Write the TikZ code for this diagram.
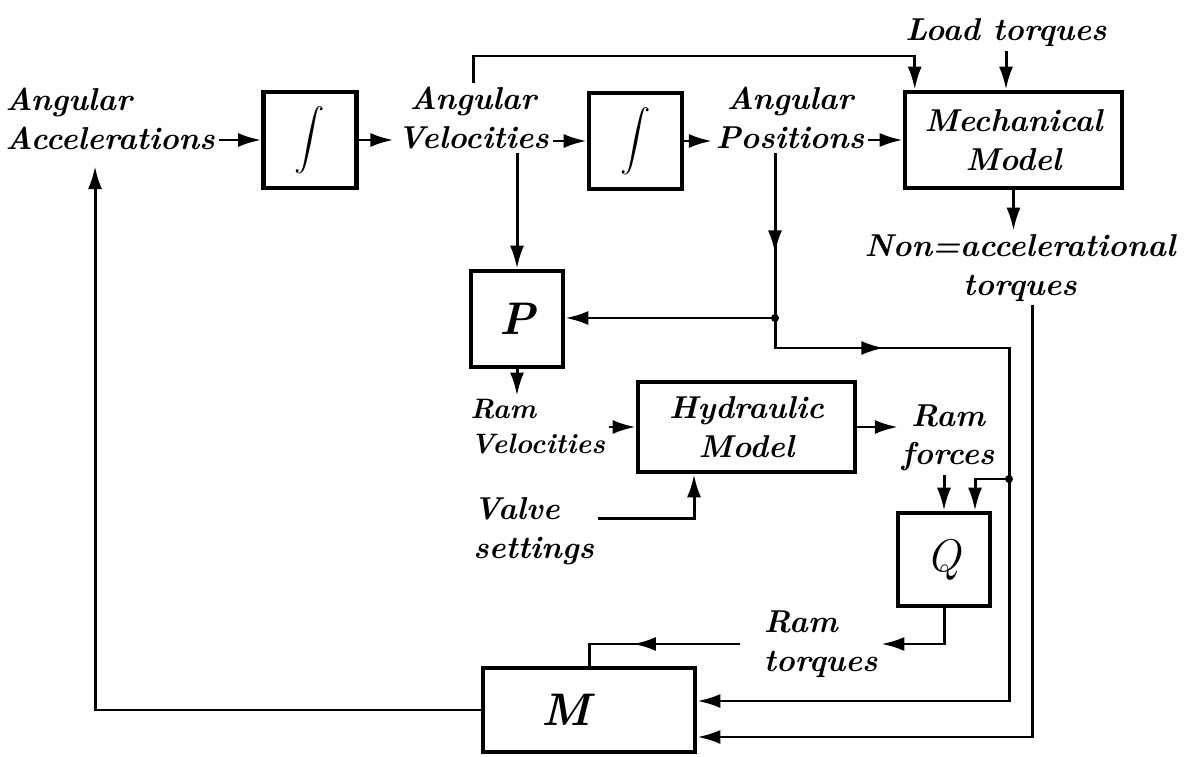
\documentclass[tikz,border=0pt]{standalone}
\usepackage{amsmath}
\usepackage{tikz}
\usetikzlibrary{positioning, calc, arrows.meta, decorations.markings}

\begin{document}
\begin{tikzpicture}[
    block/.style={draw, line width=2.6pt, minimum width=1.86cm,
                  minimum height=1.92cm, align=center, inner sep=2pt,
                  font=\fontsize{18}{22}\selectfont\bfseries\itshape},
    lbl/.style={align=center, inner sep=2pt,
                font=\fontsize{18}{22}\selectfont\bfseries\itshape},
    arw/.style={-{Latex[length=4.6mm, width=2.8mm]}, line width=1.7pt},
    wire/.style={line width=1.7pt},
    midarw/.style={postaction={decorate}, decoration={markings,
        mark=at position #1 with {\arrow{Latex[length=4.6mm, width=2.8mm]}}}},
]
\useasboundingbox (0,0) rectangle (23.82,15.12);

% --- Top row ---
\node[lbl, align=left, anchor=west] (acc) at (0.03, 12.74)
    {Angular\\Accelerations};
\node[block] (int1) at (6.2, 12.32) {\fontsize{18}{20}\selectfont$\displaystyle\int$};
\node[lbl] (vel) at (9.46, 12.76) {Angular\\Velocities};
\node[block] (int2) at (12.71, 12.3) {\fontsize{18}{20}\selectfont$\displaystyle\int$};
\node[lbl] (pos) at (15.8, 12.76) {Angular\\Positions};
\node[block, minimum width=4.34cm] (mech) at (20.27, 12.32)
    {Mechanical\\Model};
\node[lbl] (load) at (20.12, 14.46) {Load torques};
\node[lbl] (nonacc) at (20.4, 9.76) {Non=accelerational\\torques};
\coordinate (topline) at (0, 14.0);

% --- Middle ---
\node[block, minimum width=1.84cm] (P) at (10.34, 8.74)
    {\fontsize{26}{28}\selectfont P};
\coordinate (split1) at (15.5, 8.76);
\node[lbl, align=left, anchor=west, font=\fontsize{16}{20}\selectfont\bfseries\itshape]
    (ramvel) at (9.33, 6.58) {Ram\\Velocities};
\node[block, minimum width=4.34cm, minimum height=1.8cm] (hyd) at (14.93, 6.58)
    {Hydraulic\\Model};
\node[lbl] (ramforce) at (18.96, 6.36) {Ram\\forces};
\node[lbl, align=left, anchor=west] (valve) at (9.39, 4.5) {Valve\\settings};
\coordinate (split2) at (20.18, 5.54);

% --- Bottom ---
\node[block, minimum width=1.84cm, minimum height=1.86cm] (Q) at (18.88, 3.93)
    {\fontsize{26}{28}\selectfont\mdseries Q};
\node[lbl, align=left, anchor=west] (ramtorq) at (15.2, 2.24) {Ram\\torques};
\node[block, minimum width=4.24cm, minimum height=1.68cm] (M) at (11.78, 0.92)
    {\fontsize{26}{28}\selectfont M\hspace*{0.9cm}};

% --- Main flow arrows ---
\draw[arw] (acc.east |- int1.west) -- (int1.west);
\draw[arw] (int1.east) -- (vel.west |- int1.east);
\draw[arw] (vel.east |- int2.west) -- (int2.west);
\draw[arw] (int2.east) -- (pos.west |- int2.east);
\draw[arw] (pos.east |- mech.west) -- (mech.west);

% --- Mechanical model inputs and output ---
\draw[arw] (vel.north) -- (vel.north |- topline) -| ([xshift=0.24cm]mech.north west);
\draw[arw] (load.south) -- (load.south |- mech.north);
\draw[arw] (mech.south) -- (mech.south |- nonacc.north);

% --- P and hydraulic model ---
\draw[arw] (vel.south -| P.north) -- (P.north);
\draw[wire, midarw=0.61] (pos.south -| split1) -- (split1);
\draw[arw] (split1) -- (P.east |- split1);
\draw[arw] (P.south) -- (P.south |- ramvel.north);
\draw[arw] (ramvel.east |- hyd.west) -- (hyd.west);
\draw[arw] ([yshift=0.25cm]valve.east) -| ([xshift=-1.05cm]hyd.south);
\draw[arw] (hyd.east) -- (ramforce.west |- hyd.east);

% --- Q and M ---
\draw[arw, midarw=0.15] (split1) -- ++(0,-0.6) -| (split2)
    |- ([yshift=0.18cm]M.east);
\draw[arw] (split2) -| ([xshift=0.62cm]Q.north);
\draw[arw] (ramforce.south -| Q.north) -- (Q.north);
\draw[arw] (Q.south) |- (ramtorq.east);
\draw[wire, midarw=0.62] ([xshift=-0.4cm]ramtorq.west) -| (M.north);
\draw[arw] ([xshift=0.24cm]nonacc.south) |- ([yshift=-0.54cm]M.east);
\draw[arw] (M.west) -| ([xshift=-0.3cm, yshift=-0.25cm]acc.south);

\fill (split1) circle (0.08);
\fill (split2) circle (0.08);
\end{tikzpicture}
\end{document}
